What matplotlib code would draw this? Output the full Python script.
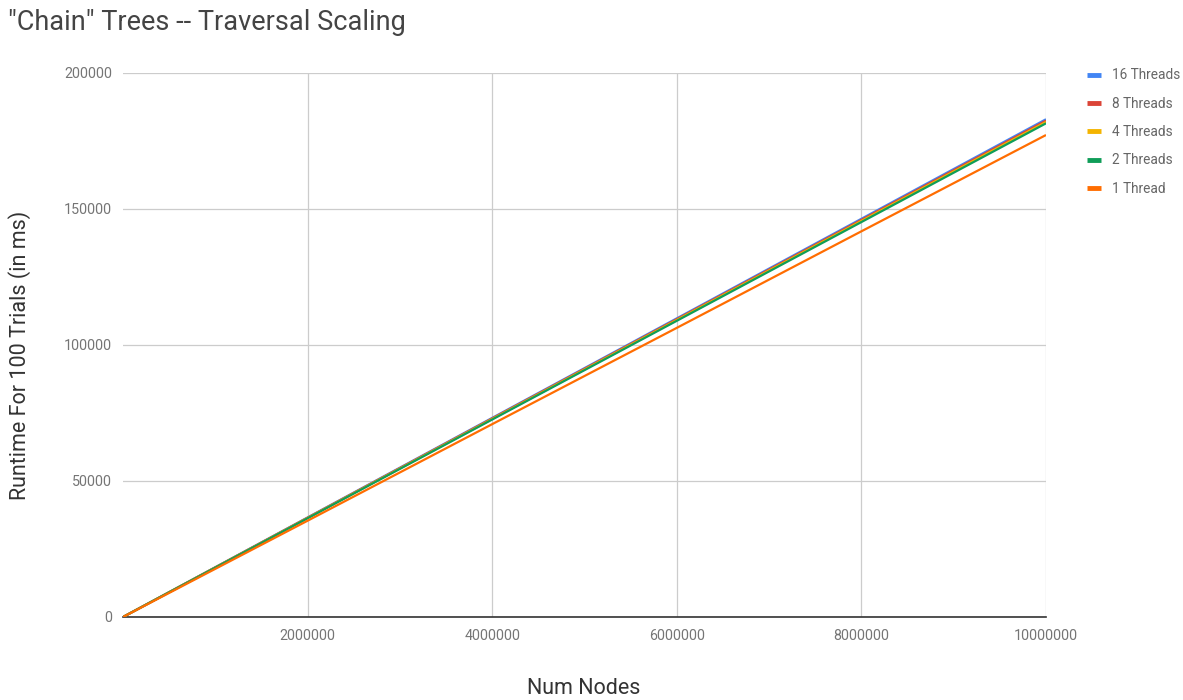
import matplotlib
matplotlib.use("Agg")
import matplotlib.pyplot as plt

plt.rcParams["font.family"] = ["Roboto", "DejaVu Sans"]

# Number of nodes in the chain tree
num_nodes = [0, 2000000, 4000000, 6000000, 8000000, 10000000]

# Runtime for 100 trials (ms) per thread count
series_labels = ["16 Threads", "8 Threads", "4 Threads", "2 Threads", "1 Thread"]
threads_16 = [0, 36600, 73200, 109800, 146400, 183000]
threads_8 = [0, 36500, 73000, 109500, 146000, 182500]
threads_4 = [0, 36400, 72800, 109200, 145600, 182000]
threads_2 = [0, 36300, 72600, 108900, 145200, 181500]
threads_1 = [0, 35400, 70900, 106300, 141800, 177200]

x_ticks = [2000000, 4000000, 6000000, 8000000, 10000000]
y_ticks = [0, 50000, 100000, 150000, 200000]

colors = ["#4285F4", "#DB4437", "#F4B400", "#0F9D58", "#FF6D01"]
series = [threads_16, threads_8, threads_4, threads_2, threads_1]

fig = plt.figure(figsize=(11.83, 7.0), dpi=100)
ax = fig.add_axes([123 / 1183, 1 - 617 / 700, (1046 - 123) / 1183, (617 - 73) / 700])

for i, (vals, lab, col) in enumerate(zip(series, series_labels, colors)):
    ax.plot(num_nodes, vals, color=col, lw=1.6, label=lab, zorder=3 + i,
            solid_capstyle="butt")

ax.set_xlim(0, 10000000)
ax.set_ylim(0, 200000)
ax.set_xticks(x_ticks)
ax.set_xticklabels([str(v) for v in x_ticks])
ax.set_yticks(y_ticks)
ax.set_yticklabels([str(v) for v in y_ticks])

ax.grid(True, color="#cccccc", lw=0.9, zorder=0)
ax.set_axisbelow(True)
for side in ["top", "right", "left"]:
    ax.spines[side].set_visible(False)
ax.spines["bottom"].set_color("#333333")
ax.spines["bottom"].set_linewidth(1.2)
ax.spines["bottom"].set_zorder(2)

ax.tick_params(axis="both", length=0, labelsize=10.3, labelcolor="#757575")
ax.tick_params(axis="x", pad=9)
ax.tick_params(axis="y", pad=8)

fig.text(584 / 1183, 1 - 688 / 700, "Num Nodes", fontsize=15.5, color="#333333",
         ha="center", va="center")
fig.text(20 / 1183, 1 - 355 / 700, "Runtime For 100 Trials (in ms)", fontsize=15.5,
         color="#333333", ha="center", va="center", rotation=90)

fig.text(8 / 1183, 1 - 22 / 700, "\"Chain\" Trees -- Traversal Scaling",
         fontsize=19.5, color="#444444", va="center", ha="left")

leg = fig.legend(loc="upper left", bbox_to_anchor=(1082 / 1183, 1 - 63 / 700),
                 frameon=False, fontsize=9.8, handlelength=1.0, handletextpad=0.8,
                 labelspacing=1.05, borderaxespad=0)
for t in leg.get_texts():
    t.set_color("#666666")
for h in leg.get_lines():
    h.set_linewidth(3.5)

fig.savefig("out.png", dpi=100)
